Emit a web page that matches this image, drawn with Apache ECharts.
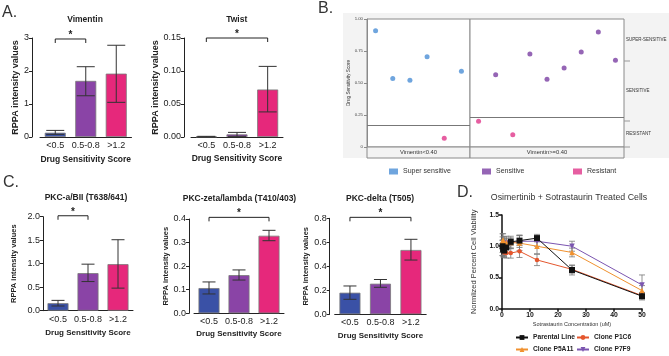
<!DOCTYPE html>
<html><head><meta charset="utf-8">
<script src="https://cdn.jsdelivr.net/npm/echarts@6/dist/echarts.min.js"></script>
<style>html,body{margin:0;padding:0;background:#fff}#c{width:669px;height:356px}</style>
</head><body><div id="c"></div><script>
const FONT = '"Liberation Sans", Arial, Helvetica, sans-serif';

// ---------- Panels A and C (bar charts) ----------
const drugScoreCats = ['<0.5', '0.5-0.8', '>1.2'];
const barColors = ['#3a51a6', '#8a44a6', '#e6287b'];

const vimentinMean = [0.13, 1.70, 1.92];
const vimentinLow  = [0.08, 1.25, 1.05];
const vimentinHigh = [0.20, 2.13, 2.78];
const vimentinSig  = [0, 1, 2.97];

const twistMean = [0.0005, 0.004, 0.072];
const twistLow  = [0.0, 0.001, 0.038];
const twistHigh = [0.001, 0.007, 0.107];
const twistSig  = [0, 2, 0.15];

const pkcAMean = [0.16, 0.80, 0.99];
const pkcALow  = [0.10, 0.62, 0.48];
const pkcAHigh = [0.22, 0.99, 1.51];
const pkcASig  = [0, 1, 2.02];

const pkcZMean = [0.107, 0.162, 0.329];
const pkcZLow  = [0.082, 0.141, 0.308];
const pkcZHigh = [0.133, 0.184, 0.352];
const pkcZSig  = [0, 2, 0.407];

const pkcDMean = [0.18, 0.255, 0.536];
const pkcDLow  = [0.125, 0.225, 0.452];
const pkcDHigh = [0.236, 0.29, 0.625];
const pkcDSig  = [0, 2, 0.808];

// ---------- Panel B (scatter by Vimentin facet) ----------
const bLeftScore  = [0.909, 0.535, 0.521, 0.705, 0.068, 0.591];
const bLeftGroup  = ['Super sensitive','Super sensitive','Super sensitive','Super sensitive','Resistant','Super sensitive'];
const bRightScore = [0.201, 0.565, 0.096, 0.727, 0.529, 0.617, 0.742, 0.898, 0.677];
const bRightGroup = ['Resistant','Sensitive','Resistant','Sensitive','Sensitive','Sensitive','Sensitive','Sensitive','Sensitive'];
const bLeftCutoff = 0.166;
const bRightCutoff = 0.227;
const bFacetLabels = ['Vimentin<0.40', 'Vimentin>=0.40'];
const bGroupColors = {'Super sensitive':'#4b8fd6', 'Sensitive':'#7a3ea3', 'Resistant':'#e0368a'};

// ---------- Panel D (dose response) ----------
const dConc = [0.2, 0.39, 0.78, 1.56, 3.125, 6.25, 12.5, 25, 50];
const dParental = [1.00, 0.95, 0.93, 0.98, 1.07, 1.09, 1.13, 0.62, 0.20];
const dParentalErr = [0.15, 0.10, 0.10, 0.10, 0.06, 0.08, 0.06, 0.08, 0.06];
const dP1C6 = [0.97, 0.93, 0.90, 0.89, 0.89, 0.92, 0.78, 0.63, 0.21];
const dP1C6Err = [0.12, 0.10, 0.08, 0.08, 0.08, 0.10, 0.09, 0.06, 0.05];
const dP5A11 = [1.08, 1.10, 1.05, 1.06, 1.06, 1.05, 1.00, 0.90, 0.29];
const dP5A11Err = [0.12, 0.10, 0.10, 0.10, 0.10, 0.12, 0.12, 0.07, 0.08];
const dP7F9 = [1.00, 1.02, 1.04, 1.05, 1.05, 1.08, 1.08, 1.00, 0.38];
const dP7F9Err = [0.10, 0.08, 0.08, 0.08, 0.08, 0.10, 0.08, 0.08, 0.16];

const chart = echarts.init(document.getElementById('c'), null, {renderer:'canvas'});

function makeErr(cap, color, width){
  return function(params, api){
    const x = api.value(0);
    const lo = api.coord([x, api.value(1)]);
    const hi = api.coord([x, api.value(2)]);
    const st = {stroke: color, lineWidth: width};
    return {type:'group', children:[
      {type:'line', shape:{x1:lo[0], y1:lo[1], x2:hi[0], y2:hi[1]}, style:st},
      {type:'line', shape:{x1:hi[0]-cap, y1:hi[1], x2:hi[0]+cap, y2:hi[1]}, style:st},
      {type:'line', shape:{x1:lo[0]-cap, y1:lo[1], x2:lo[0]+cap, y2:lo[1]}, style:st}
    ]};
  };
}
function bracketRender(params, api){
  const a = api.coord([api.value(0), api.value(2)]);
  const b = api.coord([api.value(1), api.value(2)]);
  return {type:'group', children:[
    {type:'polyline', shape:{points:[[a[0],a[1]+4],[a[0],a[1]],[b[0],b[1]],[b[0],b[1]+4]]}, style:{stroke:'#222', lineWidth:1, fill:null}},
    {type:'text', style:{text:'*', x:(a[0]+b[0])/2, y:a[1]+1, textAlign:'center', textVerticalAlign:'bottom', font:'bold 10px '+FONT, fill:'#222'}}
  ]};
}

const grid = [], xAxis = [], yAxis = [], series = [];

function barPanel(c){
  const i = grid.length;
  grid.push({left:c.left, top:c.top, width:c.width, height:c.height, show:false, outerBoundsMode:'none'});
  xAxis.push({gridIndex:i, type:'category', data:drugScoreCats,
    axisLine:{lineStyle:{color:'#222', width:1}},
    axisTick:{alignWithLabel:true, length:3, lineStyle:{color:'#222'}},
    axisLabel:{interval:0, hideOverlap:false, fontSize:c.tickFont, color:'#222', margin:4, fontFamily:FONT},
    name:'Drug Sensitivity Score', nameLocation:'middle', nameGap:c.xGap,
    nameTextStyle:{fontSize:c.xNameFont, fontWeight:'bold', color:'#222', fontFamily:FONT}});
  yAxis.push({gridIndex:i, type:'value', min:0, max:c.max, interval:c.interval, offset:c.offset,
    axisLine:{show:true, lineStyle:{color:'#222', width:1}},
    axisTick:{show:true, length:3, lineStyle:{color:'#222'}},
    splitLine:{show:false},
    axisLabel:{fontSize:c.tickFont, color:'#222', margin:3, fontFamily:FONT, formatter:v=>v.toFixed(c.dec)},
    name:'RPPA intensity values', nameLocation:'middle', nameGap:c.yGap,
    nameTextStyle:{fontSize:c.yNameFont, fontWeight:'bold', color:'#222', fontFamily:FONT}});
  series.push({type:'bar', xAxisIndex:i, yAxisIndex:i, barWidth:21,
    itemStyle:{borderColor:'#7a7a7a', borderWidth:0.8},
    data:c.mean.map((v,k)=>({value:v, itemStyle:{color:barColors[k]}}))});
  series.push({type:'custom', xAxisIndex:i, yAxisIndex:i, renderItem:makeErr(c.cap,'#333',1), z:5,
    encode:{x:0, y:[1,2]}, data:c.mean.map((v,k)=>[k, c.low[k], c.high[k]])});
  series.push({type:'custom', xAxisIndex:i, yAxisIndex:i, renderItem:bracketRender, z:5,
    encode:{x:0, y:2}, data:[c.sig]});
}

barPanel({left:40, top:38, width:91.5, height:99, max:3, interval:1, dec:0, offset:8, xGap:18.5, yGap:12,
  tickFont:9, xNameFont:8.5, yNameFont:9, cap:9, mean:vimentinMean, low:vimentinLow, high:vimentinHigh, sig:vimentinSig});
barPanel({left:191, top:38, width:92, height:99, max:0.15, interval:0.05, dec:2, offset:7, xGap:17, yGap:24,
  tickFont:9, xNameFont:8.5, yNameFont:9, cap:9, mean:twistMean, low:twistLow, high:twistHigh, sig:twistSig});

// Panel B grids
function bFacet(scores, groups, left, width, showY, cutoff){
  const i = grid.length;
  grid.push({left:left, top:19, width:width, height:128, show:true, backgroundColor:'#fff', borderColor:'#8a8a8a', borderWidth:1, outerBoundsMode:'none'});
  xAxis.push({gridIndex:i, type:'category', data:scores.map((_,k)=>String(k+1)), show:false});
  yAxis.push({gridIndex:i, type:'value', min:0, max:1, interval:0.25, show:showY,
    axisLine:{show:true, lineStyle:{color:'#8a8a8a'}},
    axisTick:{show:true, length:3, lineStyle:{color:'#8a8a8a'}},
    splitLine:{show:false},
    axisLabel:{fontSize:4.3, color:'#444', margin:4, fontFamily:FONT, formatter:v=> v===0 ? '0' : v.toFixed(2)},
    name:'Drug Sensitivity Score', nameLocation:'middle', nameGap:13,
    nameTextStyle:{fontSize:4.7, color:'#333', fontFamily:FONT}});
  const names = [...new Set(groups)];
  names.forEach(g=>{
    series.push({type:'scatter', name:g, xAxisIndex:i, yAxisIndex:i, symbolSize:5,
      itemStyle:{color:bGroupColors[g]},
      data: scores.map((v,k)=> groups[k]===g ? [k, v] : null).filter(d=>d)});
  });
  series.push({type:'line', xAxisIndex:i, yAxisIndex:i, data:[], silent:true,
    markLine:{silent:true, symbol:'none', label:{show:false}, lineStyle:{color:'#777', width:1, type:'solid'},
      data:[{yAxis:cutoff}]}});
}
bFacet(bLeftScore, bLeftGroup, 367, 103, true, bLeftCutoff);
bFacet(bRightScore, bRightGroup, 470, 154, false, bRightCutoff);

barPanel({left:43, top:216.7, width:90, height:94, max:2, interval:0.5, dec:1, offset:0, xGap:18, yGap:25,
  tickFont:9, xNameFont:8, yNameFont:7.5, cap:6.5, mean:pkcAMean, low:pkcALow, high:pkcAHigh, sig:pkcASig});
barPanel({left:194, top:219, width:90, height:94.3, max:0.4, interval:0.1, dec:1, offset:5, xGap:16.7, yGap:17.5,
  tickFont:9, xNameFont:8, yNameFont:7.5, cap:6.5, mean:pkcZMean, low:pkcZLow, high:pkcZHigh, sig:pkcZSig});
barPanel({left:334.7, top:218.3, width:91.5, height:96, max:0.8, interval:0.2, dec:1, offset:5, xGap:17.4, yGap:19.5,
  tickFont:9, xNameFont:8, yNameFont:7.5, cap:6.5, mean:pkcDMean, low:pkcDLow, high:pkcDHigh, sig:pkcDSig});

// Panel D
const dIdx = grid.length;
grid.push({left:502, top:215, width:140, height:93.7, show:false, outerBoundsMode:'none'});
xAxis.push({gridIndex:dIdx, type:'value', min:0, max:50, interval:10,
  axisLine:{lineStyle:{color:'#111', width:1.5}},
  axisTick:{length:3, lineStyle:{color:'#111', width:1.5}},
  splitLine:{show:false},
  axisLabel:{fontSize:6.8, fontWeight:'bold', color:'#111', margin:3, fontFamily:FONT},
  name:'Sotrastaurin Concentration (uM)', nameLocation:'middle', nameGap:13,
  nameTextStyle:{fontSize:5.5, color:'#333', fontFamily:FONT}});
yAxis.push({gridIndex:dIdx, type:'value', min:0, max:1.5, interval:0.5,
  axisLine:{show:true, lineStyle:{color:'#111', width:1.5}},
  axisTick:{show:true, length:3, lineStyle:{color:'#111', width:1.5}},
  splitLine:{show:false},
  axisLabel:{fontSize:6.8, fontWeight:'bold', color:'#111', margin:3, fontFamily:FONT, formatter:v=>v.toFixed(1)},
  name:'Normlized Percent Cell Viability', nameLocation:'middle', nameGap:24,
  nameTextStyle:{fontSize:7.5, color:'#333', fontFamily:FONT}});
const dCurves = [
  {name:'Parental Line', vals:dParental, err:dParentalErr, color:'#111111', symbol:'rect', size:6, rot:0},
  {name:'Clone P1C6', vals:dP1C6, err:dP1C6Err, color:'#e4572e', symbol:'circle', size:4.5, rot:0},
  {name:'Clone P5A11', vals:dP5A11, err:dP5A11Err, color:'#f0912f', symbol:'triangle', size:5.5, rot:0},
  {name:'Clone P7F9', vals:dP7F9, err:dP7F9Err, color:'#7b55b0', symbol:'triangle', size:5.5, rot:180}
];
dCurves.slice().reverse().forEach(cv=>{
  series.push({type:'custom', xAxisIndex:dIdx, yAxisIndex:dIdx, renderItem:makeErr(3,'#777',0.8), z:2,
    encode:{x:0, y:[1,2]}, data:dConc.map((x,k)=>[x, cv.vals[k]-cv.err[k], cv.vals[k]+cv.err[k]])});
  series.push({type:'line', name:cv.name, xAxisIndex:dIdx, yAxisIndex:dIdx, symbol:cv.symbol, symbolSize:cv.size,
    symbolRotate:cv.rot, showSymbol:true, z:3,
    lineStyle:{color:cv.color, width:1}, itemStyle:{color:cv.color},
    data:dConc.map((x,k)=>[x, cv.vals[k]])});
});

function legendAt(name, left, top, opts){
  return Object.assign({data:[name], left:left, top:top, padding:0, itemGap:0, selectedMode:false,
    textStyle:{fontFamily:FONT, color:'#222'}}, opts);
}
const bLeg = {icon:'rect', itemWidth:9, itemHeight:6, textStyle:{fontSize:7, color:'#333', fontFamily:FONT}};
const dLeg = {itemWidth:12, itemHeight:6, textStyle:{fontSize:6.7, fontWeight:'bold', color:'#222', fontFamily:FONT}};
const legend = [
  legendAt('Super sensitive', 389, 168, bLeg),
  legendAt('Sensitive', 482, 168, bLeg),
  legendAt('Resistant', 573, 168, bLeg),
  legendAt('Parental Line', 515, 334, dLeg),
  legendAt('Clone P1C6', 576, 334, dLeg),
  legendAt('Clone P5A11', 515, 346, dLeg),
  legendAt('Clone P7F9', 576, 346, dLeg)
];

function txt(t, x, y, size, weight, align, color){
  return {type:'text', silent:true, style:{text:t, x:x, y:y, textAlign:align||'center', textVerticalAlign:'middle',
    font:(weight||'normal')+' '+size+'px '+FONT, fill:color||'#222'}};
}
const graphic = [
  {type:'rect', z:-100, silent:true, shape:{x:343, y:13, width:326, height:145}, style:{fill:'#f3f3f3'}},
  {type:'rect', z:10, silent:true, shape:{x:367, y:147, width:103, height:11}, style:{fill:'#f3f3f3', stroke:'#8a8a8a', lineWidth:1}},
  {type:'rect', z:10, silent:true, shape:{x:470, y:147, width:154, height:11}, style:{fill:'#f3f3f3', stroke:'#8a8a8a', lineWidth:1}},
  Object.assign(txt(bFacetLabels[0], 418.5, 152.5, 5.8, 'normal', 'center', '#333'), {z:11}),
  Object.assign(txt(bFacetLabels[1], 547, 152.5, 5.8, 'normal', 'center', '#333'), {z:11}),
  txt('SUPER-SENSITIVE', 626, 40, 4.5, 'normal', 'left', '#333'),
  txt('SENSITIVE', 626, 91, 4.5, 'normal', 'left', '#333'),
  txt('RESISTANT', 626, 134, 4.5, 'normal', 'left', '#333'),
  {type:'line', silent:true, shape:{x1:624, y1:61, x2:630, y2:61}, style:{stroke:'#999', lineWidth:1}},
  {type:'line', silent:true, shape:{x1:624, y1:121, x2:630, y2:121}, style:{stroke:'#999', lineWidth:1}},
  {type:'line', silent:true, shape:{x1:624, y1:147, x2:630, y2:147}, style:{stroke:'#999', lineWidth:1}},
  txt('A.', 2, 13, 16, 'normal', 'left', '#333'),
  txt('B.', 318, 9, 16, 'normal', 'left', '#333'),
  txt('C.', 3, 183, 16, 'normal', 'left', '#333'),
  txt('D.', 457, 193, 16, 'normal', 'left', '#333'),
  txt('Vimentin', 85, 19.5, 8.5, 'bold'),
  txt('Twist', 236.7, 19.7, 8.5, 'bold'),
  txt('PKC-a/BII (T638/641)', 86, 198, 8.5, 'bold'),
  txt('PKC-zeta/lambda (T410/403)', 239.5, 199, 8.5, 'bold'),
  txt('PKC-delta (T505)', 380, 199, 8.5, 'bold'),
  txt('Osimertinib + Sotrastaurin Treated Cells', 569, 198, 8.8, 'normal', 'center', '#333')
];

chart.setOption({
  animation:false,
  backgroundColor:'#fff',
  textStyle:{fontFamily:FONT},
  grid, xAxis, yAxis, series, legend, graphic
});
</script></body></html>
